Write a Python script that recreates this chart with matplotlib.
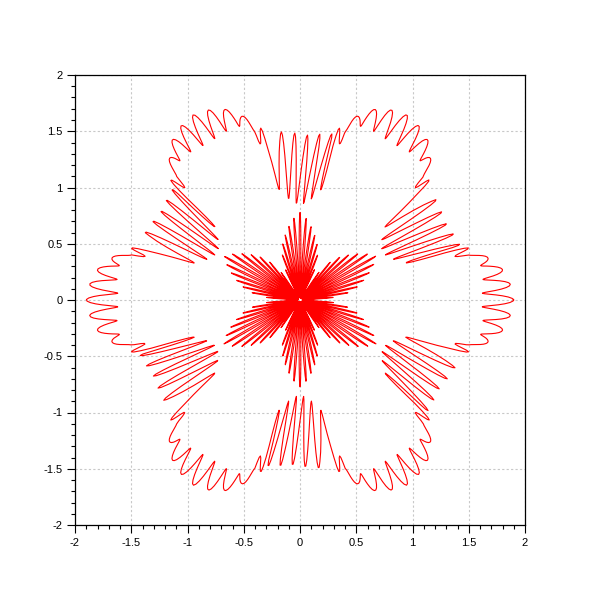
import numpy as np
import matplotlib
matplotlib.use("Agg")
import matplotlib.pyplot as plt
from matplotlib.ticker import MultipleLocator

plt.rcParams["font.family"] = ["Liberation Sans", "DejaVu Sans"]

# ─── Curve shape ────────────────────────────────────────────────────────────
# angular offset (deg) from the nearest spike bundle (30°, 90°, 150°, ...)
offset_deg = [0, 5, 8, 10, 13, 15, 20, 25, 28, 30]
# outer curve: radius at the spike tops / wiggle crests
outer_max = [1.47, 1.49, 1.50, 1.52, 1.57, 1.64, 1.80, 1.87, 1.89, 1.90]
# outer curve: radius at the spike bottoms / wiggle troughs
outer_min = [0.84, 0.88, 0.93, 0.98, 1.05, 1.55, 1.65, 1.63, 1.62, 1.62]
# inner flower: radius at the petal tips
inner_max = [0.78, 0.72, 0.67, 0.64, 0.59, 0.56, 0.47, 0.33, 0.18, 0.08]
inner_min = [0.02, 0.02, 0.02, 0.02, 0.02, 0.02, 0.02, 0.02, 0.02, 0.02]

n_spikes = 84          # oscillations per turn
step = 0.005           # sampling step of the angle (rad)
tilt = 0.006           # sideways lean of the wiggles on the outer lobes
spike_turn = np.radians(6)   # spikes lean clockwise from the radial direction

ticks = [-2, -1.5, -1, -0.5, 0, 0.5, 1, 1.5, 2]
tick_labels = ["-2", "-1.5", "-1", "-0.5", "0", "0.5", "1", "1.5", "2"]


def bundle_offset(theta):
    deg = np.degrees(theta)
    return np.abs(deg % 60 - 30)


theta = np.arange(0, 2 * np.pi + step, step)
d = bundle_offset(theta)
wave = (1 + np.cos(n_spikes * theta)) / 2
lobe = np.clip((d - 13) / 5, 0, 1)
lean = np.clip((12 - d) / 3, 0, 1)

lo, hi = np.interp(d, offset_deg, outer_min), np.interp(d, offset_deg, outer_max)
ang = theta + tilt * lobe * np.sin(n_spikes * theta)
z_out = np.exp(1j * ang) * (lo + (hi - lo) * wave * np.exp(-1j * spike_turn * lean))

lo, hi = np.interp(d, offset_deg, inner_min), np.interp(d, offset_deg, inner_max)
z_in = np.exp(1j * theta) * (lo + (hi - lo) * wave)

# ─── Plot ───────────────────────────────────────────────────────────────────
fig = plt.figure(figsize=(6, 6), dpi=100)
ax = fig.add_axes([0.125, 0.125, 0.75, 0.75])
ax.plot(z_out.real, z_out.imag, color="#ff0000", lw=0.8)
ax.plot(z_in.real, z_in.imag, color="#ff0000", lw=0.8)

ax.set_xlim(-2, 2)
ax.set_ylim(-2, 2)
ax.set_xticks(ticks, tick_labels, fontsize=8)
ax.set_yticks(ticks, tick_labels, fontsize=8)
ax.xaxis.set_minor_locator(MultipleLocator(0.1))
ax.yaxis.set_minor_locator(MultipleLocator(0.1))
ax.tick_params(which="both", direction="out", top=False, right=False, width=0.8)
ax.tick_params(which="major", length=6, pad=3)
ax.tick_params(which="minor", length=3)
ax.grid(True, which="major", color="#c8c8c8", linestyle=(0, (2, 2)), lw=0.8)
ax.set_axisbelow(True)
for s in ax.spines.values():
    s.set_linewidth(0.9)

plt.savefig("out.png", dpi=100)
